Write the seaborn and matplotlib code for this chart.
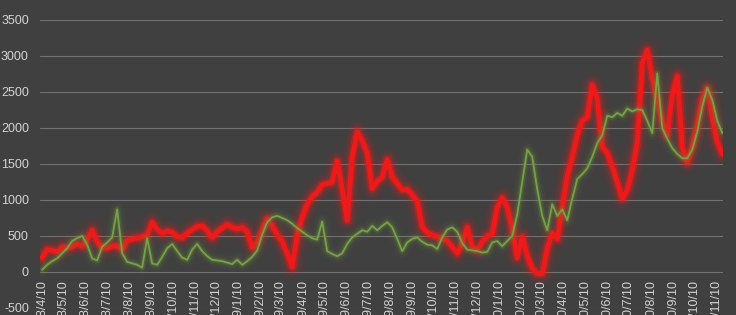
import matplotlib
matplotlib.use("Agg")
import matplotlib.pyplot as plt
import matplotlib.patheffects as pe
import seaborn as sns
import pandas as pd

# ---- data -------------------------------------------------------------
start_date = "2008-04-10"

green_values = [
    30, 100, 150, 190, 260, 330, 430, 470, 500, 380,
    190, 160, 350, 410, 480, 870, 260, 140, 120, 100,
    60, 470, 120, 100, 210, 330, 390, 290, 200, 170,
    310, 390, 290, 220, 170, 160, 150, 130, 110, 170,
    100, 150, 210, 300, 520, 690, 760, 780, 750, 720,
    670, 610, 560, 510, 470, 450, 700, 290, 250, 220,
    260, 390, 480, 530, 580, 560, 640, 580, 640, 690,
    620, 460, 290, 410, 460, 480, 420, 380, 370, 320,
    480, 590, 620, 560, 400, 310, 300, 290, 270, 280,
    410, 430, 360, 430, 500, 800, 1250, 1700, 1600, 1150,
    780, 580, 940, 780, 870, 720, 1020, 1290, 1360, 1440,
    1600, 1790, 1900, 2170, 2150, 2210, 2170, 2270, 2230, 2260,
    2250, 2100, 1930, 2760, 2000, 1850, 1720, 1640, 1580, 1580,
    1700, 1950, 2300, 2560, 2390, 2100, 1930,
]

red_values = [
    200, 310, 300, 280, 350, 340, 350, 390, 360, 450,
    580, 420, 340, 330, 360, 360, 320, 440, 460, 470,
    490, 510, 690, 590, 540, 570, 550, 490, 480, 540,
    590, 630, 640, 570, 480, 560, 610, 660, 620, 600,
    620, 560, 340, 420, 580, 740, 640, 520, 420, 260,
    70, 520, 760, 940, 1050, 1110, 1210, 1230, 1250, 1540,
    1150, 720, 1600, 1950, 1820, 1650, 1160, 1260, 1320, 1560,
    1320, 1230, 1140, 1150, 1070, 980, 630, 550, 510, 490,
    470, 430, 350, 260, 400, 620, 350, 310, 420, 500,
    530, 900, 1030, 900, 600, 200, 490, 220, 50, -20,
    -20, 330, 540, 460, 900, 1330, 1600, 1900, 2100, 2150,
    2600, 2400, 1740, 1650, 1470, 1250, 1020, 1140, 1420, 1800,
    2900, 3080, 2680, 2390, 2100, 1900, 2450, 2720, 1740, 1520,
    1750, 2050, 2400, 2550, 2150, 1800, 1640,
]

tick_labels = [
    "2008/4/10", "2008/5/10", "2008/6/10", "2008/7/10", "2008/8/10",
    "2008/9/10", "2008/10/10", "2008/11/10", "2008/12/10",
    "2009/1/10", "2009/2/10", "2009/3/10", "2009/4/10", "2009/5/10",
    "2009/6/10", "2009/7/10", "2009/8/10", "2009/9/10", "2009/10/10",
    "2009/11/10", "2009/12/10",
    "2010/1/10", "2010/2/10", "2010/3/10", "2010/4/10", "2010/5/10",
    "2010/6/10", "2010/7/10", "2010/8/10", "2010/9/10", "2010/10/10",
    "2010/11/10",
]
y_ticks = [-500, 0, 500, 1000, 1500, 2000, 2500, 3000, 3500]

# ---- frame ------------------------------------------------------------
dates = pd.date_range(start_date, periods=len(green_values), freq="7D")
df = pd.DataFrame({"date": dates, "green": green_values, "red": red_values})

BG = "#404040"
RED = "#ee1a1a"
GREEN = "#78a048"
TXT = "#d4d4d4"

sns.set_theme(style="dark")
plt.rcParams["font.family"] = ["Liberation Sans", "DejaVu Sans"]

fig = plt.figure(figsize=(7.36, 3.15), dpi=100, facecolor=BG)
ax = fig.add_axes([40 / 736, 7 / 315, 683 / 736, 288 / 315])
ax.set_facecolor(BG)

red_glow = [
    pe.Stroke(linewidth=18, foreground=RED, alpha=0.04),
    pe.Stroke(linewidth=13, foreground=RED, alpha=0.08),
    pe.Stroke(linewidth=9, foreground=RED, alpha=0.16),
    pe.Stroke(linewidth=6, foreground=RED, alpha=0.4),
    pe.Normal(),
]
green_glow = [
    pe.Stroke(linewidth=10, foreground="#6a8a3a", alpha=0.06),
    pe.Stroke(linewidth=6, foreground="#6a8a3a", alpha=0.12),
    pe.Stroke(linewidth=3.5, foreground="#6a8a3a", alpha=0.28),
    pe.Normal(),
]

sns.lineplot(data=df, x="date", y="red", ax=ax, color=RED, linewidth=3.4,
             path_effects=red_glow, zorder=3)
sns.lineplot(data=df, x="date", y="green", ax=ax, color=GREEN, linewidth=1.3,
             path_effects=green_glow, zorder=4)

ax.set_ylim(-500, 3500)
ax.set_xlim(dates[0] - pd.Timedelta(days=3), dates[-1] + pd.Timedelta(days=1))
ax.set_yticks(y_ticks)
ax.set_yticklabels([str(v) for v in y_ticks])

tick_pos = pd.to_datetime(tick_labels, format="%Y/%m/%d")
ax.set_xticks(tick_pos)
ax.set_xticklabels(tick_labels)

ax.grid(axis="y", color="#737373", linewidth=0.8)
ax.grid(axis="x", visible=False)
ax.set_axisbelow(True)

for s in ax.spines.values():
    s.set_visible(False)
ax.spines["bottom"].set_position(("data", 0))

ax.tick_params(axis="y", colors=TXT, labelsize=9, length=0, pad=8)
ax.tick_params(axis="x", colors=TXT, labelsize=9, length=0, pad=6,
               labelrotation=90)
for lbl in ax.get_xticklabels():
    lbl.set_rotation(90)
    lbl.set_ha("center")
    lbl.set_va("top")
ax.set_xlabel("")
ax.set_ylabel("")

fig.savefig("out.png", dpi=100, facecolor=BG)
